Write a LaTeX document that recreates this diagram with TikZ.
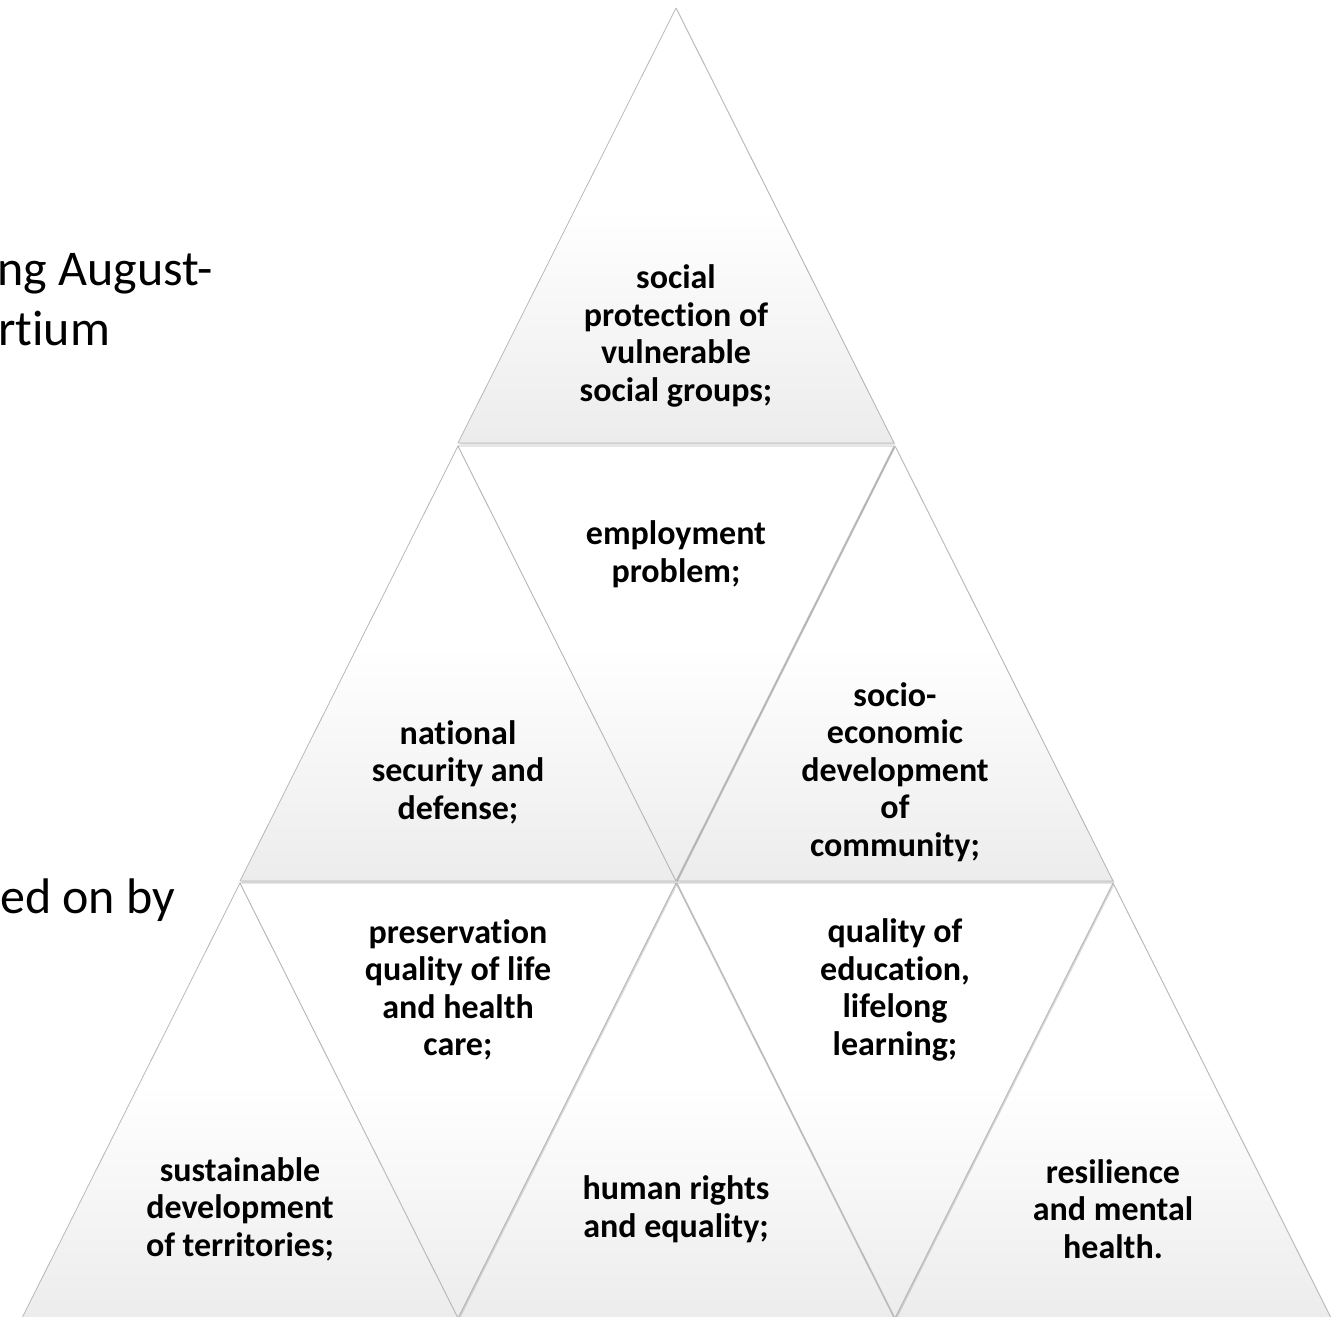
\documentclass[tikz,border=0pt]{standalone}
\usepackage{fontspec}
\setmainfont{Carlito}[Ligatures=NoCommon]
\usetikzlibrary{shadows}

\pgfdeclareverticalshading{trishade}{100bp}{color(0bp)=(black!14); color(12bp)=(black!11); color(52bp)=(white); color(100bp)=(white)}

\tikzset{
  tri/.style={draw=black!28, line width=0.8pt, line join=round, shading=trishade,
    drop shadow={shadow xshift=1.5pt, shadow yshift=-1.5pt, opacity=0.28}},
  topic/.style={align=center, inner sep=0pt, font=\fontsize{34}{37.5}\selectfont\bfseries},
  intro/.style={anchor=base west, inner sep=0pt, font=\fontsize{50}{60}\selectfont}
}

\begin{document}
\begin{tikzpicture}[x=1pt,y=-1pt]
  \useasboundingbox (0,0) rectangle (1342,1317);
  \pgfmathsetmacro{\trihw}{218}
  \pgfmathsetmacro{\trih}{435}

  % text cut off at the left edge
  \node[intro] (introa) at (-3,285) {ng August-};
  \node[intro] (introb) at (-2,345) {rtium};
  \node[intro] (introc) at (0,913) {ed on by};

  % triangles pointing up: centre x / top y
  \foreach \cx/\ty in {676/8, 458/446, 895/446, 240/883, 676/883, 1113/883}
    \path[tri] (\cx,\ty) -- (\cx+\trihw,\ty+\trih) -- (\cx-\trihw,\ty+\trih) -- cycle;
  % triangles pointing down
  \foreach \cx/\ty in {676/446, 458/883, 895/883}
    \path[tri] (\cx-\trihw,\ty) -- (\cx+\trihw,\ty) -- (\cx,\ty+\trih) -- cycle;

  \node[topic] (prot)   at (676,336)  {social\\protection of\\vulnerable\\social groups;};
  \node[topic] (empl)   at (676,554)  {employment\\problem;};
  \node[topic] (natsec) at (458,772)  {national\\security and\\defense;};
  \node[topic] (socio)  at (895,772)  {socio-\\economic\\development\\of\\community;};
  \node[topic] (health) at (458,990)  {preservation\\quality of life\\and health\\care;};
  \node[topic] (educ)   at (895,990)  {quality of\\education,\\lifelong\\learning;};
  \node[topic] (sust)   at (240,1209) {sustainable\\development\\of territories;};
  \node[topic] (rights) at (676,1209) {human rights\\and equality;};
  \node[topic] (resil)  at (1113,1209){resilience\\and mental\\health.};
\end{tikzpicture}
\end{document}
